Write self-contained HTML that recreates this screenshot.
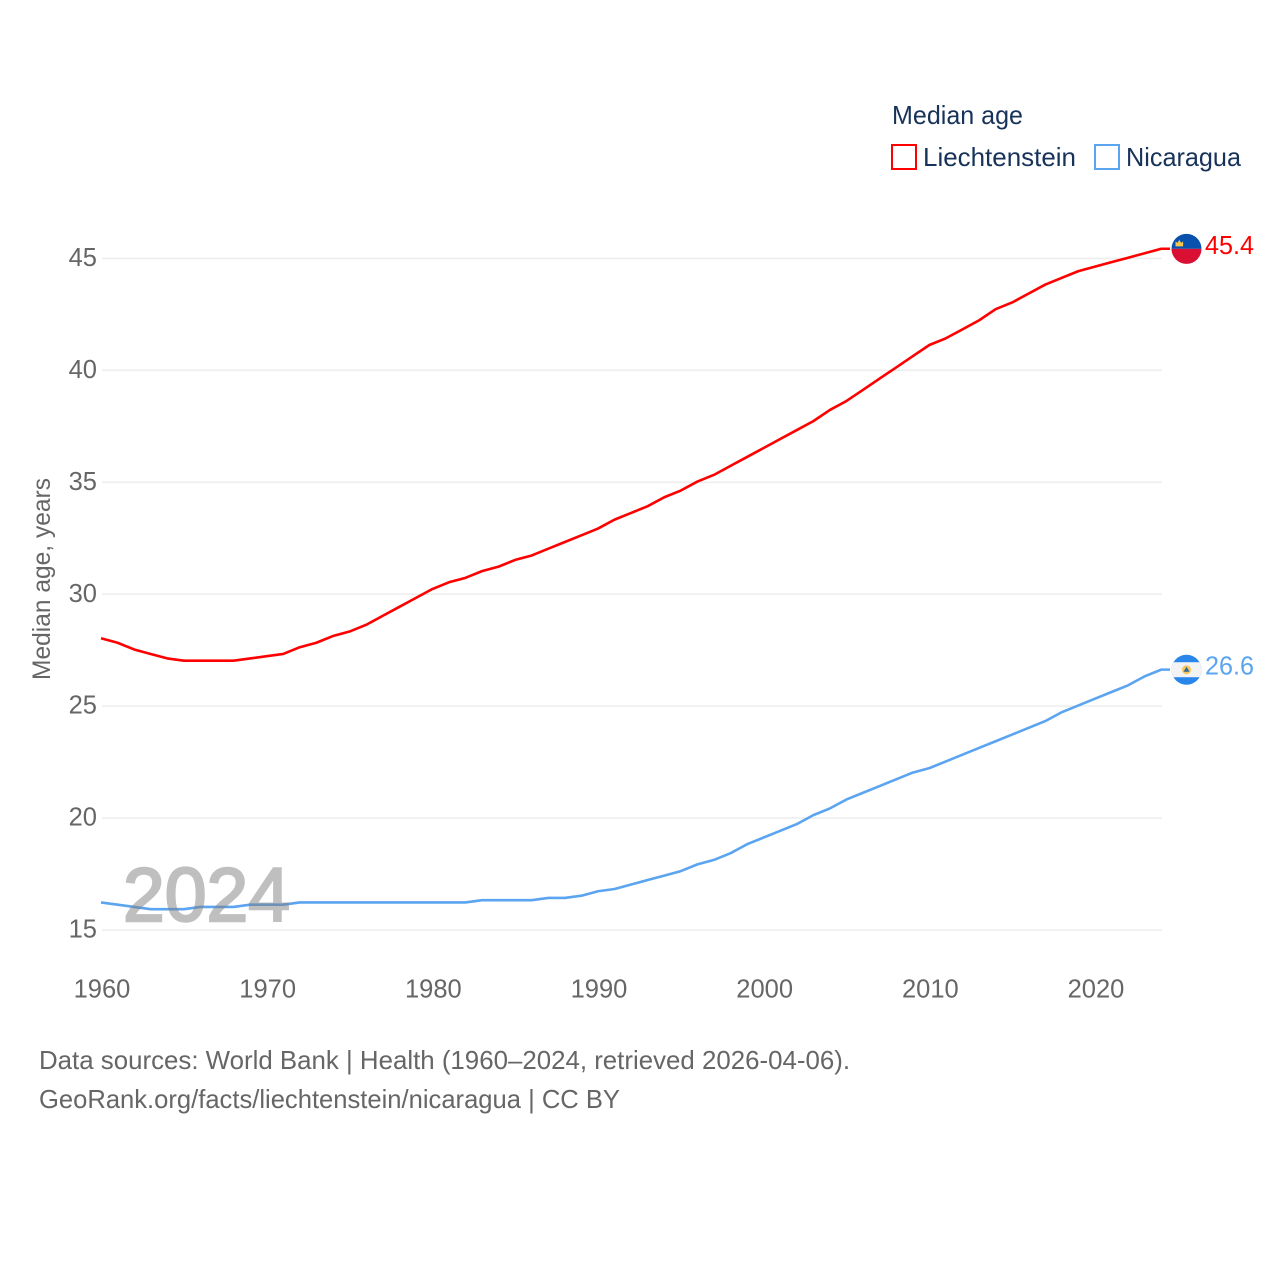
<!DOCTYPE html>
<html lang="en">
<head>
<meta charset="utf-8">
<title>Median age: Liechtenstein and Nicaragua</title>
<style>
html,body{margin:0;padding:0;background:#fff}
svg{display:block}
text{font-family:"Liberation Sans",sans-serif}
</style>
</head>
<body>
<svg id="chart" xmlns="http://www.w3.org/2000/svg" width="1280" height="1280" viewBox="0 0 1280 1280">
  <rect x="0" y="0" width="1280" height="1280" fill="#ffffff"/>
  <g id="grid"></g>
  <g id="yticks"></g>
  <g id="xticks"></g>
  <text transform="translate(50,680) rotate(-90)" font-size="25" fill="#666666" textLength="202" lengthAdjust="spacingAndGlyphs">Median age, years</text>
  <g id="series" transform="translate(-1,-0.7)"></g>
  <text x="123" y="921" font-size="76" fill="#808080" stroke="#808080" stroke-width="2.4" opacity="0.5" textLength="167" lengthAdjust="spacingAndGlyphs">2024</text>
  <g id="ends"></g>
  <text x="892" y="124" font-size="26" fill="#18335a" textLength="131" lengthAdjust="spacingAndGlyphs">Median age</text>
  <g>
    <rect x="892" y="145" width="24" height="24" fill="#ffffff" stroke="#ff0000" stroke-width="2"/>
    <text x="923" y="166" font-size="26" fill="#18335a" textLength="153" lengthAdjust="spacingAndGlyphs">Liechtenstein</text>
  </g>
  <g>
    <rect x="1095" y="145" width="24" height="24" fill="#ffffff" stroke="#5ba4f0" stroke-width="2"/>
    <text x="1126" y="166" font-size="26" fill="#18335a" textLength="115" lengthAdjust="spacingAndGlyphs">Nicaragua</text>
  </g>
  <text x="39" y="1069" font-size="26" fill="#666666" textLength="811" lengthAdjust="spacingAndGlyphs">Data sources: World Bank | Health (1960–2024, retrieved 2026-04-06).</text>
  <text x="39" y="1108" font-size="26" fill="#666666" textLength="581" lengthAdjust="spacingAndGlyphs">GeoRank.org/facts/liechtenstein/nicaragua | CC BY</text>
</svg>
<script>
const years = [1960,1961,1962,1963,1964,1965,1966,1967,1968,1969,1970,1971,1972,1973,1974,1975,1976,1977,1978,1979,1980,1981,1982,1983,1984,1985,1986,1987,1988,1989,1990,1991,1992,1993,1994,1995,1996,1997,1998,1999,2000,2001,2002,2003,2004,2005,2006,2007,2008,2009,2010,2011,2012,2013,2014,2015,2016,2017,2018,2019,2020,2021,2022,2023,2024];
const liechtenstein = [28.0,27.8,27.5,27.3,27.1,27.0,27.0,27.0,27.0,27.1,27.2,27.3,27.6,27.8,28.1,28.3,28.6,29.0,29.4,29.8,30.2,30.5,30.7,31.0,31.2,31.5,31.7,32.0,32.3,32.6,32.9,33.3,33.6,33.9,34.3,34.6,35.0,35.3,35.7,36.1,36.5,36.9,37.3,37.7,38.2,38.6,39.1,39.6,40.1,40.6,41.1,41.4,41.8,42.2,42.7,43.0,43.4,43.8,44.1,44.4,44.6,44.8,45.0,45.2,45.4];
const nicaragua = [16.2,16.1,16.0,15.9,15.9,15.9,16.0,16.0,16.0,16.1,16.1,16.1,16.2,16.2,16.2,16.2,16.2,16.2,16.2,16.2,16.2,16.2,16.2,16.3,16.3,16.3,16.3,16.4,16.4,16.5,16.7,16.8,17.0,17.2,17.4,17.6,17.9,18.1,18.4,18.8,19.1,19.4,19.7,20.1,20.4,20.8,21.1,21.4,21.7,22.0,22.2,22.5,22.8,23.1,23.4,23.7,24.0,24.3,24.7,25.0,25.3,25.6,25.9,26.3,26.6];
const xTickLabels = [1960,1970,1980,1990,2000,2010,2020];
const yTickLabels = [15,20,25,30,35,40,45];

const NS = 'http://www.w3.org/2000/svg';
const xScale = function (v) { return 102 + (v - 1960) * (1096 - 102) / 60; };
const yScale = function (v) { return 930 - (v - 15) * (930 - 258.4) / 30; };
function make(tag, parent) {
  const el = document.createElementNS(NS, tag);
  parent.appendChild(el);
  return el;
}
function put(el, props) {
  Object.keys(props).forEach(function (k) { el.setAttribute(k, props[k]); });
}

const gridG = document.getElementById('grid');
const yG = document.getElementById('yticks');
const xG = document.getElementById('xticks');
const seriesG = document.getElementById('series');
const endsG = document.getElementById('ends');

yTickLabels.forEach(function (t) {
  const line = make('line', gridG);
  
  
  put(line, {x1: 102, x2: 1162, y1: yScale(t), y2: yScale(t), stroke: '#eeeeee', 'stroke-width': 1.6});
  const label = make('text', yG);
  
  
  put(label, {x: 97, y: yScale(t) + 7.6, 'text-anchor': 'end', 'font-size': 25.5, fill: '#666666'});
  label.textContent = t;
});

xTickLabels.forEach(function (t) {
  const label = make('text', xG);
  
  
  put(label, {x: xScale(t), y: 997.5, 'text-anchor': 'middle', 'font-size': 25.5, fill: '#666666'});
  label.textContent = t;
});

function drawLine(values, color) {
  const last = values[values.length - 1];
  const pts = values.map(function (v, i) { return xScale(years[i]) + ',' + yScale(v); });
  pts.push('1171,' + yScale(last));
  const path = make('polyline', seriesG);
  
  
  put(path, {points: pts.join(' '), fill: 'none', stroke: color, 'stroke-width': 2.6, 'stroke-linejoin': 'round'});
  return last;
}

const lastL = drawLine(liechtenstein, '#ff0000');
const lastN = drawLine(nicaragua, '#5ba4f0');

function clipCircle(id, cx, cy) {
  const clip = make('clipPath', endsG);
  clip.setAttribute('id', id);
  put(make('circle', clip), {cx: cx, cy: cy, r: 15});
}

/* Liechtenstein flag marker */
const ly = yScale(lastL) - 0.6;
clipCircle('clip-li', 1186.5, ly);
const liFlag = make('g', endsG);


put(liFlag, {'clip-path': 'url(#clip-li)'});
put(make('rect', liFlag), {x: 1171, y: ly - 16, width: 31, height: 16, fill: '#0a50ad'});
put(make('rect', liFlag), {x: 1171, y: ly, width: 31, height: 16, fill: '#d90f33'});
put(make('path', liFlag), {d: 'M' + 1175.5 + ' ' + (ly - 2.5) + 'v-5l2 1.5 1.8-3 1.8 3 2-1.5v5z', fill: '#f2c94c'});
const liValue = make('text', endsG);


put(liValue, {x: 1205, y: ly + 5, 'font-size': 25.5, fill: '#ff0000', textLength: 49, lengthAdjust: 'spacingAndGlyphs'});
liValue.textContent = lastL.toFixed(1);

/* Nicaragua flag marker */
const ny = yScale(lastN) - 0.6;
clipCircle('clip-ni', 1186.5, ny);
const niFlag = make('g', endsG);


put(niFlag, {'clip-path': 'url(#clip-ni)'});
put(make('rect', niFlag), {x: 1171, y: ny - 16, width: 31, height: 32, fill: '#2a86ea'});
put(make('rect', niFlag), {x: 1171, y: ny - 7.5, width: 31, height: 15, fill: '#f3f3f3'});
put(make('circle', niFlag), {cx: 1186.5, cy: ny, r: 4.5, fill: '#f6c65b'});
put(make('path', niFlag), {d: 'M1183.5 ' + (ny + 2) + 'l3-5 3 5z', fill: '#33669a'});
const niValue = make('text', endsG);


put(niValue, {x: 1205, y: ny + 5, 'font-size': 25.5, fill: '#5ba4f0', textLength: 49, lengthAdjust: 'spacingAndGlyphs'});
niValue.textContent = lastN.toFixed(1);
</script>
</body>
</html>
